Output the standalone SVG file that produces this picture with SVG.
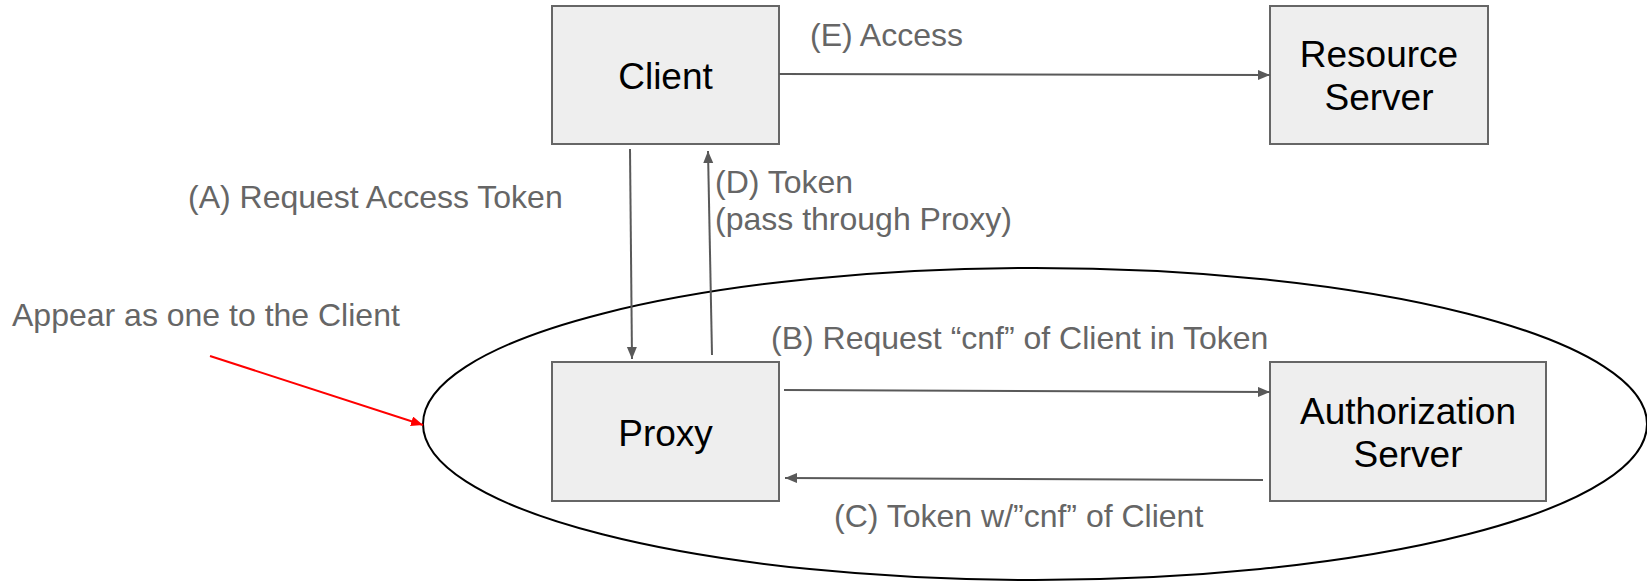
<svg xmlns="http://www.w3.org/2000/svg" width="1647" height="582" viewBox="0 0 1647 582">
<style>
.box{fill:#eeeeee;stroke:#666666;stroke-width:2}
.lbl{font-family:"Liberation Sans",Arial,sans-serif;font-size:37px;fill:#000000;text-anchor:middle}
.note{font-family:"Liberation Sans",Arial,sans-serif;font-size:32px;fill:#666666}
.conn{stroke:#595959;stroke-width:2;fill:none;marker-end:url(#ah)}
.red{stroke:#ff0000;stroke-width:2;fill:none;marker-end:url(#ahr)}
</style>
<defs>
<marker id="ah" markerUnits="userSpaceOnUse" markerWidth="14" markerHeight="12" refX="12" refY="5" orient="auto">
<path d="M0,0 L12,5 L0,10 Z" fill="#595959"/>
</marker>
<marker id="ahr" markerUnits="userSpaceOnUse" markerWidth="14" markerHeight="12" refX="12" refY="5" orient="auto">
<path d="M0,0 L12,5 L0,10 Z" fill="#ff0000"/>
</marker>
</defs>
<rect width="1647" height="582" fill="#ffffff"/>
<ellipse id="group-ellipse" cx="1035" cy="424" rx="612" ry="156" fill="none" stroke="#000000" stroke-width="2"/>
<g id="client">
<rect class="box" x="552" y="6" width="227" height="138"/>
<text class="lbl" x="665.5" y="89">Client</text>
</g>
<g id="resource-server">
<rect class="box" x="1270" y="6" width="218" height="138"/>
<text class="lbl" x="1379" y="67">Resource</text>
<text class="lbl" x="1379" y="110">Server</text>
</g>
<g id="proxy">
<rect class="box" x="552" y="362" width="227" height="139"/>
<text class="lbl" x="665.5" y="446">Proxy</text>
</g>
<g id="authorization-server">
<rect class="box" x="1270" y="362" width="276" height="139"/>
<text class="lbl" x="1408" y="424">Authorization</text>
<text class="lbl" x="1408" y="467">Server</text>
</g>
<g id="connectors">
<line class="conn" x1="779" y1="74" x2="1270" y2="75"/>
<line class="conn" x1="630" y1="149" x2="632" y2="359"/>
<line class="conn" x1="712" y1="355" x2="708" y2="151"/>
<line class="conn" x1="784" y1="390" x2="1270" y2="392"/>
<line class="conn" x1="1263" y1="480" x2="785" y2="478"/>
<line class="red" x1="210" y1="356" x2="423" y2="425"/>
</g>
<g id="labels">
<text class="note" x="810" y="46">(E) Access</text>
<text class="note" x="188" y="208">(A) Request Access Token</text>
<text class="note" x="715" y="193">(D) Token</text>
<text class="note" x="715" y="230">(pass through Proxy)</text>
<text class="note" x="12" y="326">Appear as one to the Client</text>
<text class="note" x="771" y="349">(B) Request “cnf” of Client in Token</text>
<text class="note" x="834" y="527">(C) Token w/”cnf” of Client</text>
</g>
</svg>
